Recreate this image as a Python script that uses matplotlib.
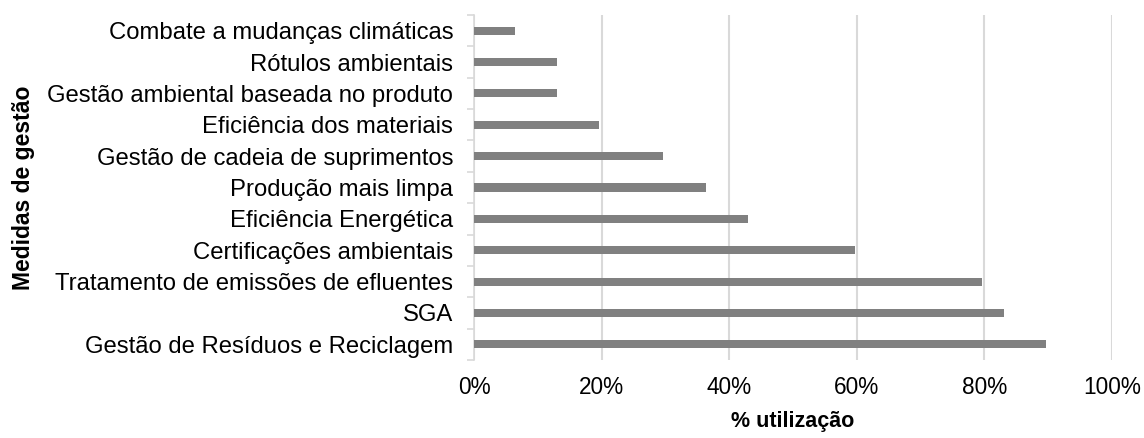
import numpy as np
import matplotlib.pyplot as plt
from matplotlib.ticker import FixedLocator, PercentFormatter

plt.rcParams['font.family'] = ['Liberation Sans', 'DejaVu Sans']

categorias = [
    "Gestão de Resíduos e Reciclagem",
    "SGA",
    "Tratamento de emissões de efluentes",
    "Certificações ambientais",
    "Eficiência Energética",
    "Produção mais limpa",
    "Gestão de cadeia de suprimentos",
    "Eficiência dos materiais",
    "Gestão ambiental baseada no produto",
    "Rótulos ambientais",
    "Combate a mudanças climáticas",
]
utilizacao = [89.7, 83.0, 79.7, 59.7, 43.0, 36.4, 29.7, 19.6, 13.0, 13.0, 6.4]
xticks = [0, 20, 40, 60, 80, 100]

fig = plt.figure(figsize=(11.44, 4.38), dpi=100)
ax = fig.add_axes([474 / 1144, 1 - 360 / 438, (1112 - 474) / 1144, (360 - 15) / 438])

y = np.arange(len(categorias))
ax.barh(y, utilizacao, height=0.26, color="#808080", zorder=3)

ax.set_xlim(0, 100)
ax.set_ylim(-0.5, len(categorias) - 0.5)
ax.set_xticks(xticks)
ax.xaxis.set_major_formatter(PercentFormatter(decimals=0))
ax.set_yticks(y)
ax.set_yticklabels(categorias)
ax.yaxis.set_minor_locator(FixedLocator(np.arange(-0.5, len(categorias), 1)))

ax.tick_params(axis="y", which="major", length=0, pad=15, labelsize=17.2, labelcolor="#000000")
ax.tick_params(axis="y", which="minor", length=5, width=1.2, color="#d9d9d9")
ax.tick_params(axis="x", length=0, pad=11.5, labelsize=16.3)

ax.grid(axis="x", color="#d9d9d9", linewidth=1.5, zorder=0)
for s in ["top", "right", "bottom"]:
    ax.spines[s].set_visible(False)
ax.spines["left"].set_color("#d9d9d9")
ax.spines["left"].set_linewidth(1.2)

ax.set_xlabel("% utilização", fontsize=15.5, fontweight="bold", labelpad=9)
ax.set_ylabel("Medidas de gestão", fontsize=16.5, fontweight="bold")
ax.yaxis.set_label_coords(-0.688, 0.5)

fig.savefig("out.png", dpi=100)
